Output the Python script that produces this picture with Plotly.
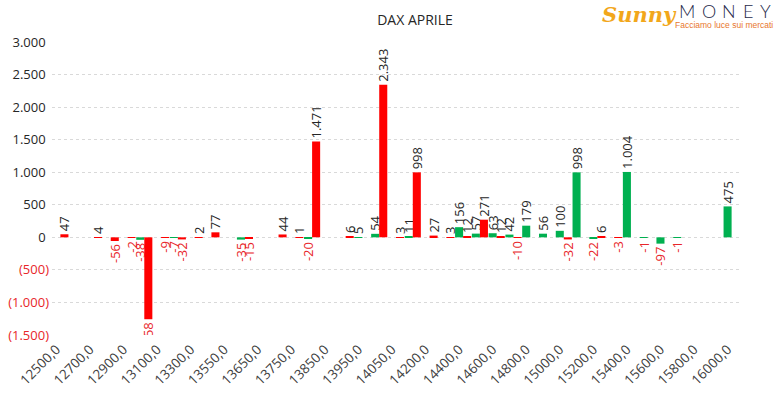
import plotly.graph_objects as go

strikes = [12500, 12600, 12700, 12800, 12900, 13000, 13100, 13200, 13300, 13400,
           13550, 13600, 13650, 13700, 13750, 13800, 13850, 13900, 13950, 14000,
           14050, 14100, 14200, 14300, 14400, 14500, 14600, 14700, 14800, 14900,
           15000, 15100, 15200, 15300, 15400, 15500, 15600, 15700, 15800, 15900, 16000]

green_vals = [None, None, None, None, None, -38, None, -7, None, None,
              None, -35, None, None, None, -20, None, None, 5, 54,
              None, 11, None, None, 156, 57, 63, 42, 179, 56,
              100, 998, -22, None, 1004, -1, -97, -1, None, None, 475]

red_vals = [47, None, 4, -56, -2, -1258, -9, -32, 2, 77,
            None, -15, None, 44, 1, 1471, None, 6, None, 2343,
            3, 998, 27, 3, 12, 271, 12, -10, None, None,
            -32, None, 6, -3, None, None, None, None, None, None, None]

y_ticks = [3000, 2500, 2000, 1500, 1000, 500, 0, -500, -1000, -1500]

GREEN = "#00B050"
RED = "#FF0000"
TXT = "#262626"
TXTRED = "#E8262A"

W, H = 775, 398
pl, pr, pt, pb = 52, 35, 42, 63
pw, ph = W - pl - pr, H - pt - pb


def fmt(v):
    s = f"{abs(v):,}".replace(",", ".")
    return ("-" if v < 0 else "") + s


def fmt_tick(v):
    s = f"{abs(v):,}".replace(",", ".")
    if v < 0:
        return f"<span style='color:{TXTRED}'>({s})</span>"
    return s + " "


cats = [f"{s},0" for s in strikes]


def labels(vals):
    return [fmt(v) if v is not None else "" for v in vals]


def colors(vals):
    return [TXTRED if (v is not None and v < 0) else TXT for v in vals]


fig = go.Figure()
for name, vals, col in [("Call", green_vals, GREEN), ("Put", red_vals, RED)]:
    fig.add_trace(go.Bar(
        x=cats, y=vals, name=name, marker_color=col, marker_line_width=0,
        text=labels(vals), textposition="outside", textangle=-90,
        constraintext="none", cliponaxis=True,
        textfont=dict(family="Open Sans", size=13, color=colors(vals)),
        hoverinfo="skip",
    ))


def px(x, y):
    # page pixel -> paper coords
    return (x - pl) / pw, (H - pb - y) / ph


ann = []
sx, sy = px(639, 15)
ann.append(dict(text="<i><b>Sunny</b></i>", x=sx, y=sy, xref="paper", yref="paper",
                showarrow=False, xanchor="center", yanchor="middle",
                font=dict(family="DejaVu Serif", size=21, color="#F2A71B")))
for ch, cx in zip("MONEY", [687, 709, 729, 748, 765]):
    mx, my = px(cx, 11.5)
    ann.append(dict(text=ch, x=mx, y=my, xref="paper", yref="paper",
                    showarrow=False, xanchor="center", yanchor="middle",
                    font=dict(family="Lato", size=18, weight=300, color="#1F2A4A")))
fx, fy = px(724, 24.5)
ann.append(dict(text="Facciamo luce sui mercati", x=fx, y=fy, xref="paper", yref="paper",
                showarrow=False, xanchor="center", yanchor="middle",
                font=dict(family="Liberation Sans Narrow, Liberation Sans", size=8.5,
                          color="#E8772E")))

fig.update_layout(
    width=W, height=H,
    margin=dict(l=pl, r=pr, t=pt, b=pb, autoexpand=False),
    paper_bgcolor="white", plot_bgcolor="white",
    barmode="group", bargap=0.04, bargroupgap=0,
    showlegend=False,
    font=dict(family="Open Sans", size=13, color="#404040"),
    title=dict(text="DAX APRILE", x=415 / W, y=1 - 20 / H,
               xref="container", yref="container", xanchor="center", yanchor="middle",
               font=dict(family="Open Sans", size=14, color="#262626")),
    xaxis=dict(
        type="category", categoryorder="array", categoryarray=cats,
        tickmode="array", tickvals=cats[::2], ticktext=cats[::2],
        tickangle=-45, showgrid=False, showline=False, ticks="",
        automargin=False, ticklabelshift=-4, ticklabelstandoff=3,
        tickfont=dict(family="Open Sans", size=13.5, color="#404040"),
    ),
    yaxis=dict(
        range=[-1500, 3000], tickmode="array", tickvals=y_ticks,
        ticktext=[fmt_tick(v) for v in y_ticks],
        showgrid=True, gridcolor="#D9D9D9", griddash="dot", gridwidth=1,
        zeroline=False, showline=False, ticks="", automargin=False,
        ticklabelstandoff=2,
        tickfont=dict(family="Open Sans", size=13, color="#262626"),
    ),
    annotations=ann,
)

fig.write_html("out.html", config={"displayModeBar": False},
               post_script="document.body.style.margin='0px';")
